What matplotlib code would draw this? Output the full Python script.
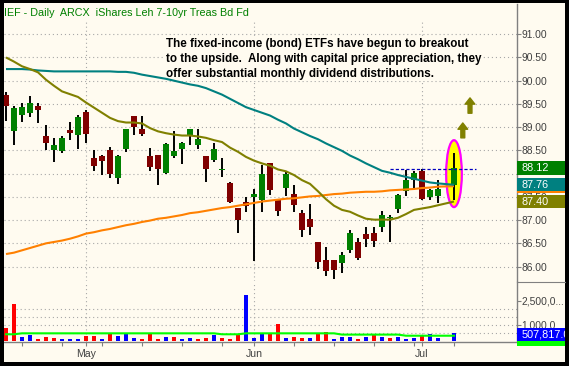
import numpy as np
import pandas as pd
import matplotlib
matplotlib.use("Agg")
import matplotlib.pyplot as plt
from matplotlib import font_manager
from matplotlib.patches import Rectangle, Ellipse
from matplotlib.transforms import blended_transform_factory
from matplotlib.ticker import FixedLocator, FixedFormatter

# ---------------- data ----------------
title = "IEF - Daily  ARCX  iShares Leh 7-10yr Treas Bd Fd"
note_lines = ["The fixed-income (bond) ETFs have begun to breakout",
              "to the upside.  Along with capital price appreciation, they",
              "offer substantial monthly dividend distributions."]

# trading-day slots (Memorial Day absent, Jul 4 slot present but empty)
dates = pd.bdate_range("2008-04-17", "2008-07-07").drop(pd.Timestamp("2008-05-26"))
nan = np.nan

open_ = [89.70, 88.91, 89.26, 89.31, 89.46, 88.82, 88.50, 88.48, 88.93, 88.84,
         89.33, 88.33, 88.39, 88.50, 87.90, 88.52, 89.23, 88.97, 88.39, 88.41,
         88.02, 88.39, 88.54, 88.84, 88.61, 88.39, 88.30, 88.07, 87.79, 87.26,
         87.39, 87.49, 87.43, 88.22, 87.43, 87.69, 87.56, 87.15, 87.02, 86.53,
         86.14, 86.14, 86.08, 86.36, 86.53, 86.70, 86.72, 86.85, 87.04, 87.23,
         87.62, 87.87, 88.05, 87.49, 87.51, nan, 87.75]
high = [89.76, 89.46, 89.53, 89.68, 89.51, 89.04, 88.76, 88.82, 89.12, 89.27,
        89.38, 88.50, 88.41, 88.58, 88.41, 88.95, 89.23, 89.23, 88.56, 88.41,
        88.65, 88.91, 88.69, 88.97, 88.95, 88.39, 88.65, 88.33, 87.83, 87.26,
        87.49, 87.66, 88.18, 88.22, 87.45, 88.05, 87.75, 87.22, 87.34, 86.53,
        86.42, 86.14, 86.31, 86.79, 86.61, 86.85, 86.85, 87.19, 87.10, 87.56,
        88.07, 88.05, 88.11, 87.66, 87.86, nan, 88.45]
low = [89.14, 88.61, 89.12, 89.21, 89.10, 88.50, 88.24, 88.44, 88.73, 88.54,
       88.67, 88.05, 87.96, 87.90, 87.77, 88.46, 88.84, 88.80, 88.05, 87.75,
       88.00, 88.33, 88.20, 88.61, 88.52, 87.81, 88.26, 87.93, 87.36, 86.72,
       87.18, 86.13, 87.18, 87.54, 87.09, 87.51, 87.17, 86.64, 86.68, 85.95,
       85.80, 85.74, 85.87, 86.29, 86.14, 86.42, 86.42, 86.74, 86.52, 87.15,
       87.51, 87.69, 87.43, 87.43, 87.36, nan, 87.43]
close = [89.46, 89.42, 89.44, 89.51, 89.38, 88.67, 88.61, 88.76, 88.88, 89.21,
         88.86, 88.16, 88.28, 88.00, 88.39, 88.95, 89.01, 88.86, 88.14, 88.09,
         88.63, 88.48, 88.67, 88.95, 88.74, 88.11, 88.54, 88.11, 87.40, 87.00,
         87.30, 87.56, 88.00, 87.64, 87.20, 87.99, 87.32, 86.79, 86.86, 86.10,
         85.91, 85.92, 86.25, 86.72, 86.19, 86.59, 86.55, 87.11, 87.06, 87.54,
         87.86, 88.02, 87.45, 87.64, 87.66, nan, 88.12]

ma_olive = [90.50, 90.41, 90.31, 90.25, 90.18, 90.02, 89.89, 89.77, 89.71, 89.65,
            89.53, 89.42, 89.31, 89.20, 89.13, 89.10, 89.10, 89.08, 88.98, 88.91,
            88.87, 88.84, 88.82, 88.82, 88.80, 88.77, 88.72, 88.68, 88.56, 88.47,
            88.36, 88.28, 88.22, 88.17, 88.09, 88.05, 87.97, 87.86, 87.78, 87.62,
            87.45, 87.31, 87.22, 87.18, 87.10, 87.03, 87.01, 87.01, 87.01, 87.05,
            87.13, 87.22, 87.25, 87.28, 87.32, nan, 87.40]
ma_teal = [90.25, 90.25, 90.25, 90.24, 90.22, 90.21, 90.20, 90.20, 90.20, 90.20,
           90.20, 90.20, 90.20, 90.20, 90.19, 90.19, 90.17, 90.13, 90.10, 90.07,
           90.04, 90.00, 89.96, 89.92, 89.89, 89.84, 89.77, 89.70, 89.61, 89.52,
           89.43, 89.37, 89.31, 89.25, 89.16, 89.08, 88.97, 88.89, 88.81, 88.74,
           88.65, 88.57, 88.49, 88.39, 88.31, 88.22, 88.14, 88.06, 88.02, 87.97,
           87.93, 87.89, 87.85, 87.81, 87.79, nan, 87.76]
ma_orange = [86.27, 86.30, 86.35, 86.40, 86.45, 86.50, 86.53, 86.56, 86.60, 86.65,
             86.71, 86.74, 86.78, 86.81, 86.85, 86.89, 86.92, 86.96, 86.99, 87.03,
             87.05, 87.08, 87.11, 87.15, 87.17, 87.20, 87.23, 87.26, 87.28, 87.31,
             87.34, 87.37, 87.40, 87.42, 87.44, 87.46, 87.47, 87.49, 87.51, 87.52,
             87.54, 87.56, 87.57, 87.59, 87.60, 87.61, 87.61, 87.62, 87.64, 87.65,
             87.66, 87.67, 87.69, 87.70, 87.72, nan, 87.73]

# volume in millions of shares
volume_m = [0.81, 2.31, 0.25, 0.38, 0.13, 0.25, 0.19, 0.13, 0.13, 0.13,
            0.31, 0.31, 0.13, 0.50, 0.31, 0.44, 0.19, 0.13, 0.44, 0.13,
            0.25, 0.25, 0.13, 0.19, 0.13, 0.19, 0.38, 0.19, 0.13, 0.38,
            2.88, 0.19, 0.50, 0.44, 1.06, 0.19, 0.25, 0.19, 0.19, 0.50,
            0.56, 0.13, 0.25, 0.25, 0.13, 0.25, 0.44, 0.25, 0.19, 0.25,
            0.13, 0.19, 0.31, 0.44, 0.19, nan, 0.507817]
volume_dir = ["dn", "dn", "up", "up", "dn", "dn", "dn", "up", "up", "up",
              "dn", "dn", "up", "dn", "up", "up", "up", "dn", "dn", "dn",
              "up", "dn", "up", "up", "dn", "dn", "up", "dn", "dn", "dn",
              "up", "up", "up", "dn", "dn", "up", "dn", "dn", "up", "dn",
              "dn", "up", "up", "up", "dn", "up", "dn", "up", "dn", "up",
              "up", "up", "dn", "up", "up", None, "up"]
vol_ma_m = [0.42, 0.42] + [0.48] * 25 + [0.42] * 3 + [0.48] * 12 + [0.40] * 8 + \
           [0.33] * 5 + [nan] + [0.33]

price_ticks = [86.0, 86.5, 87.0, 87.5, 88.0, 88.5, 89.0, 89.5, 90.0, 90.5, 91.0]
hidden_price_ticks = [88.0]          # fully covered by the last-close label
vol_ticks = [1.0, 2.5]
vol_tick_labels = ["1,000,0...", "2,500,0..."]
vol_grid = [0.5, 1.0, 1.5, 2.0]
breakout_level = 88.09
last_close_label = "88.12"
last_teal_label = "87.76"
last_olive_label = "87.40"
last_volume_label = "507,817.0"

# ---------------- style / layout ----------------
plt.rcParams["font.family"] = ["Liberation Sans", "DejaVu Sans"]
plt.rcParams["lines.scale_dashes"] = False
names = {f.name for f in font_manager.fontManager.ttflist}
narrow = "Liberation Sans Narrow" if "Liberation Sans Narrow" in names else "Liberation Sans"

W, H = 569, 366
CREAM = "#FFFBF0"
GREY = "#808080"
TXT = "#404040"


def rect(l, t, r, b):
    return [l / W, 1 - b / H, (r - l) / W, (b - t) / H]


fig = plt.figure(figsize=(W / 100, H / 100), dpi=100)
fig.patch.set_facecolor(CREAM)

ax = fig.add_axes(rect(4, 4, 517, 281))
axv = fig.add_axes(rect(4, 282, 517, 342))
for a in (ax, axv):
    a.set_facecolor("none")
    a.set_xlim(-0.25, 63.875)
    for s in ("left", "top"):
        a.spines[s].set_visible(False)
    a.spines["right"].set_color(GREY)
    a.spines["right"].set_linewidth(1.0)
ax.spines["bottom"].set_visible(False)
axv.spines["bottom"].set_color(GREY)
axv.spines["bottom"].set_linewidth(1.0)

ax.set_ylim(85.69, 91.65)
axv.set_ylim(-0.0625, 3.6875)

x = np.arange(len(dates))
o = np.array(open_)
h = np.array(high)
l = np.array(low)
c = np.array(close)
valid = ~np.isnan(c)

# axes ticks
ax.tick_params(axis="x", which="both", bottom=False, labelbottom=False)
ax.yaxis.tick_right()
ax.set_yticks(price_ticks)
ax.set_yticklabels(["" if v in hidden_price_ticks else f"{v:.2f}" for v in price_ticks])
ax.tick_params(axis="y", direction="out", length=2.6, width=0.8, color=GREY,
               pad=0.6, labelsize=7.4, labelcolor=TXT)

axv.yaxis.tick_right()
axv.set_yticks(vol_ticks)
axv.set_yticklabels(vol_tick_labels)
axv.tick_params(axis="y", direction="out", length=2.6, width=0.8, color=GREY,
                pad=0.6, labelsize=7.4, labelcolor=TXT)

month_pos = [i for i in range(1, len(dates)) if dates[i].month != dates[i - 1].month]
month_lab = [dates[i].strftime("%b") for i in month_pos]
week_pos = [i for i in range(1, len(dates))
            if dates[i].isocalendar()[1] != dates[i - 1].isocalendar()[1]]
axv.xaxis.set_major_locator(FixedLocator(month_pos))
axv.xaxis.set_major_formatter(FixedFormatter(month_lab))
axv.xaxis.set_minor_locator(FixedLocator(week_pos))
axv.tick_params(axis="x", which="both", direction="out", length=2.9, width=0.8,
                color=GREY, pad=2.4, labelsize=7.6, labelcolor=TXT)

# grid
GRID = dict(color="#A8A8A8", lw=0.8, dashes=(0.8, 2.1), zorder=0.5)
for v in price_ticks:
    ax.axhline(v, **GRID)
for m in month_pos:
    ax.axvline(m, ymax=(281 - 20) / 277, **GRID)
    axv.axvline(m, **GRID)
for v in vol_grid:
    axv.axhline(v, **GRID)

# annotation text (cream background hides gridlines)
note_base = [46.7, 61.7, 76.7]
note_txt = []
for line, yb in zip(note_lines, note_base):
    t = ax.text(166 / W, 1 - yb / H, line, transform=fig.transFigure, family=narrow,
                fontweight="bold", fontsize=8, color="black", va="baseline", ha="left",
                bbox=dict(facecolor=CREAM, edgecolor="none", pad=1.0), zorder=1)
    note_txt.append(t)

# highlight ellipse behind the last candle
ax.add_patch(Ellipse((56, 88.0), width=1.96, height=1.44, facecolor="#FFFF00",
                     edgecolor="#FF00FF", lw=1.6, zorder=2))

# candles
ax.vlines(x[valid], l[valid], h[valid], color="black", lw=1.4, zorder=3)
body_bottom = np.minimum(o, c)
body_h = np.maximum(np.abs(c - o), 0.035)
body_col = np.where(c >= o, "#008000", "#800000")
ax.bar(x[valid], body_h[valid], bottom=body_bottom[valid], width=0.72,
       color=body_col[valid], linewidth=0, zorder=4)

# moving averages
for series, col in ((ma_orange, "#FF8000"), (ma_teal, "#008080"), (ma_olive, "#808000")):
    s = np.array(series)
    ax.plot(x[valid], s[valid], color=col, lw=1.5, zorder=5, solid_capstyle="butt")

# breakout level
ax.hlines(breakout_level, 48, 58.8, colors="#0000C0", lw=0.9,
          linestyles=(0, (2.3, 1.5)), zorder=5)

# arrows
for xa, y0, y1 in ((57.1, 88.77, 89.09), (58.0, 89.30, 89.63)):
    ax.annotate("", xy=(xa, y1), xytext=(xa, y0),
                arrowprops=dict(arrowstyle="simple,head_length=0.45,head_width=0.7,tail_width=0.28",
                                color="#808000", shrinkA=0, shrinkB=0, mutation_scale=10),
                zorder=6)

# volume
v = np.array(volume_m)
vcol = np.array(["#0000FF" if d == "up" else "#FF0000" for d in volume_dir])
vvalid = ~np.isnan(v)
axv.bar(x[vvalid], v[vvalid], width=0.42, color=vcol[vvalid], linewidth=0, zorder=3)
vm = np.array(vol_ma_m)
axv.plot(x[vvalid], vm[vvalid], color="#00FF00", lw=1.5, zorder=4)

# right-side value labels
ppu = 277 / (91.65 - 85.69)
bt = blended_transform_factory(ax.transAxes, ax.transData)
box_w = 55 / 513


def value_box(a, trans, val, text, fc, units_per_px, z):
    hh = 13.3 * units_per_px
    a.add_patch(Rectangle((1.0, val - hh / 2), box_w, hh, transform=trans, facecolor=fc,
                          edgecolor="none", clip_on=False, zorder=z))
    if text:
        a.text(1 + 4.7 / 513, val, text, transform=trans, color="white", va="center",
               ha="left", fontsize=7.8, clip_on=False, zorder=z + 0.5)


value_box(ax, bt, ma_orange[-1], "", "#FF8000", 1 / ppu, 20)
value_box(ax, bt, ma_teal[-1], last_teal_label, "#008080", 1 / ppu, 21)
value_box(ax, bt, close[-1], last_close_label, "#008000", 1 / ppu, 22)
value_box(ax, bt, ma_olive[-1], last_olive_label, "#808000", 1 / ppu, 23)
btv = blended_transform_factory(axv.transAxes, axv.transData)
value_box(axv, btv, vol_ma_m[-1] - 0.2, "", "#00FF00", 1 / 16, 20)
value_box(axv, btv, volume_m[-1] - 0.08, last_volume_label, "#0000FF", 1 / 16, 21)

# overlay: title, separator, black frame
axo = fig.add_axes([0, 0, 1, 1], zorder=10)
axo.set_xlim(0, W)
axo.set_ylim(H, 0)
axo.axis("off")
axo.patch.set_alpha(0)
title_t = axo.text(4.2, 16, title, color="#008000", fontsize=7.5, va="baseline", ha="left")
axo.plot([517, 565], [281.5, 281.5], color=GREY, lw=0.8)
for (rx, ry, rw, rh) in ((0, 0, 4, H), (565, 0, 4, H), (0, 0, W, 3), (0, 362, W, 4)):
    axo.add_patch(Rectangle((rx, ry), rw, rh, facecolor="black", edgecolor="none"))

# fit text widths to the reference
renderer = fig.canvas.get_renderer()


def fit(t, target):
    w = t.get_window_extent(renderer).width
    t.set_fontsize(t.get_fontsize() * target / w)


fit(title_t, 243)
fit(note_txt[1], 317)
for t in note_txt:
    t.set_fontsize(note_txt[1].get_fontsize())

fig.savefig("out.png", dpi=100, facecolor=fig.get_facecolor())
